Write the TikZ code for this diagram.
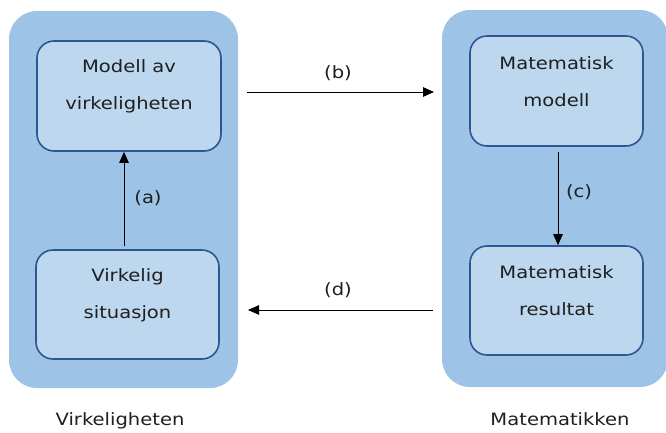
\documentclass[tikz,border=0pt]{standalone}
\usepackage{fontspec}
\setmainfont{DejaVu Sans}[FakeStretch=1.15]
\usetikzlibrary{arrows.meta}
\definecolor{panelblue}{HTML}{9DC3E6}
\definecolor{boxfill}{HTML}{BDD7EE}
\definecolor{boxline}{HTML}{2F5597}
\definecolor{txtcol}{HTML}{1F1F1F}
\tikzset{
  panel/.style={fill=panelblue, draw=none, rounded corners=28pt, inner sep=0pt},
  inbox/.style={fill=boxfill, draw=boxline, line width=1.6pt, rounded corners=17pt, inner sep=0pt},
  txt/.style={text=txtcol, align=center, font=\fontsize{17}{37}\selectfont, inner sep=0pt},
  lbl/.style={text=txtcol, font=\fontsize{17}{20}\selectfont, inner sep=0pt},
  arr/.style={-{Triangle[length=11pt,width=9.5pt]}, line width=1pt, black}
}
\begin{document}
\begin{tikzpicture}[x=1pt,y=-1pt]
\useasboundingbox (0,0) rectangle (666,432);
% panels
\node[panel, minimum width=229pt, minimum height=377pt] (pl) at (123.5,199.5) {};
\node[panel, minimum width=226pt, minimum height=377pt] (pr) at (555,198.5) {};
% inner boxes
\node[inbox, minimum width=184pt, minimum height=110pt] (ml) at (129,96) {};
\node[txt] (mlt) at ([yshift=9.5pt]ml.center) {Modell av\\virkeligheten};
\node[inbox, minimum width=183pt, minimum height=109pt] (vs) at (127.5,304.5) {};
\node[txt] (vst) at ([yshift=9.5pt]vs.center) {Virkelig\\situasjon};
\node[inbox, minimum width=173pt, minimum height=110pt] (mm) at (556.5,91) {};
\node[txt] (mmt) at ([yshift=9.5pt]mm.center) {Matematisk\\modell};
\node[inbox, minimum width=173pt, minimum height=109pt] (mr) at (556.5,300.5) {};
\node[txt] (mrt) at ([yshift=9.5pt]mr.center) {Matematisk\\resultat};
% bottom labels
\node[lbl] (lv) at (120,421) {Virkeligheten};
\node[lbl] (lm) at (560,419) {Matematikken};
% connector end points
\coordinate (ax) at (124,0);
\coordinate (cx) at (558,0);
\coordinate (b1) at (247,92);
\coordinate (b2) at (434,92);
\coordinate (d1) at (433,310);
\coordinate (d2) at (248,310);
% arrows
\draw[arr] ([yshift=3pt]vs.north -| ax) -- (ml.south -| ax);
\draw[arr] (b1) -- (b2);
\draw[arr] ([yshift=-5pt]mm.south -| cx) -- (mr.north -| cx);
\draw[arr] (d1) -- (d2);
% arrow labels
\node[lbl] (la) at (148,198) {(a)};
\node[lbl] (lb) at (338,73) {(b)};
\node[lbl] (lc) at (579,192) {(c)};
\node[lbl] (ld) at (338,290) {(d)};
\end{tikzpicture}
\end{document}
